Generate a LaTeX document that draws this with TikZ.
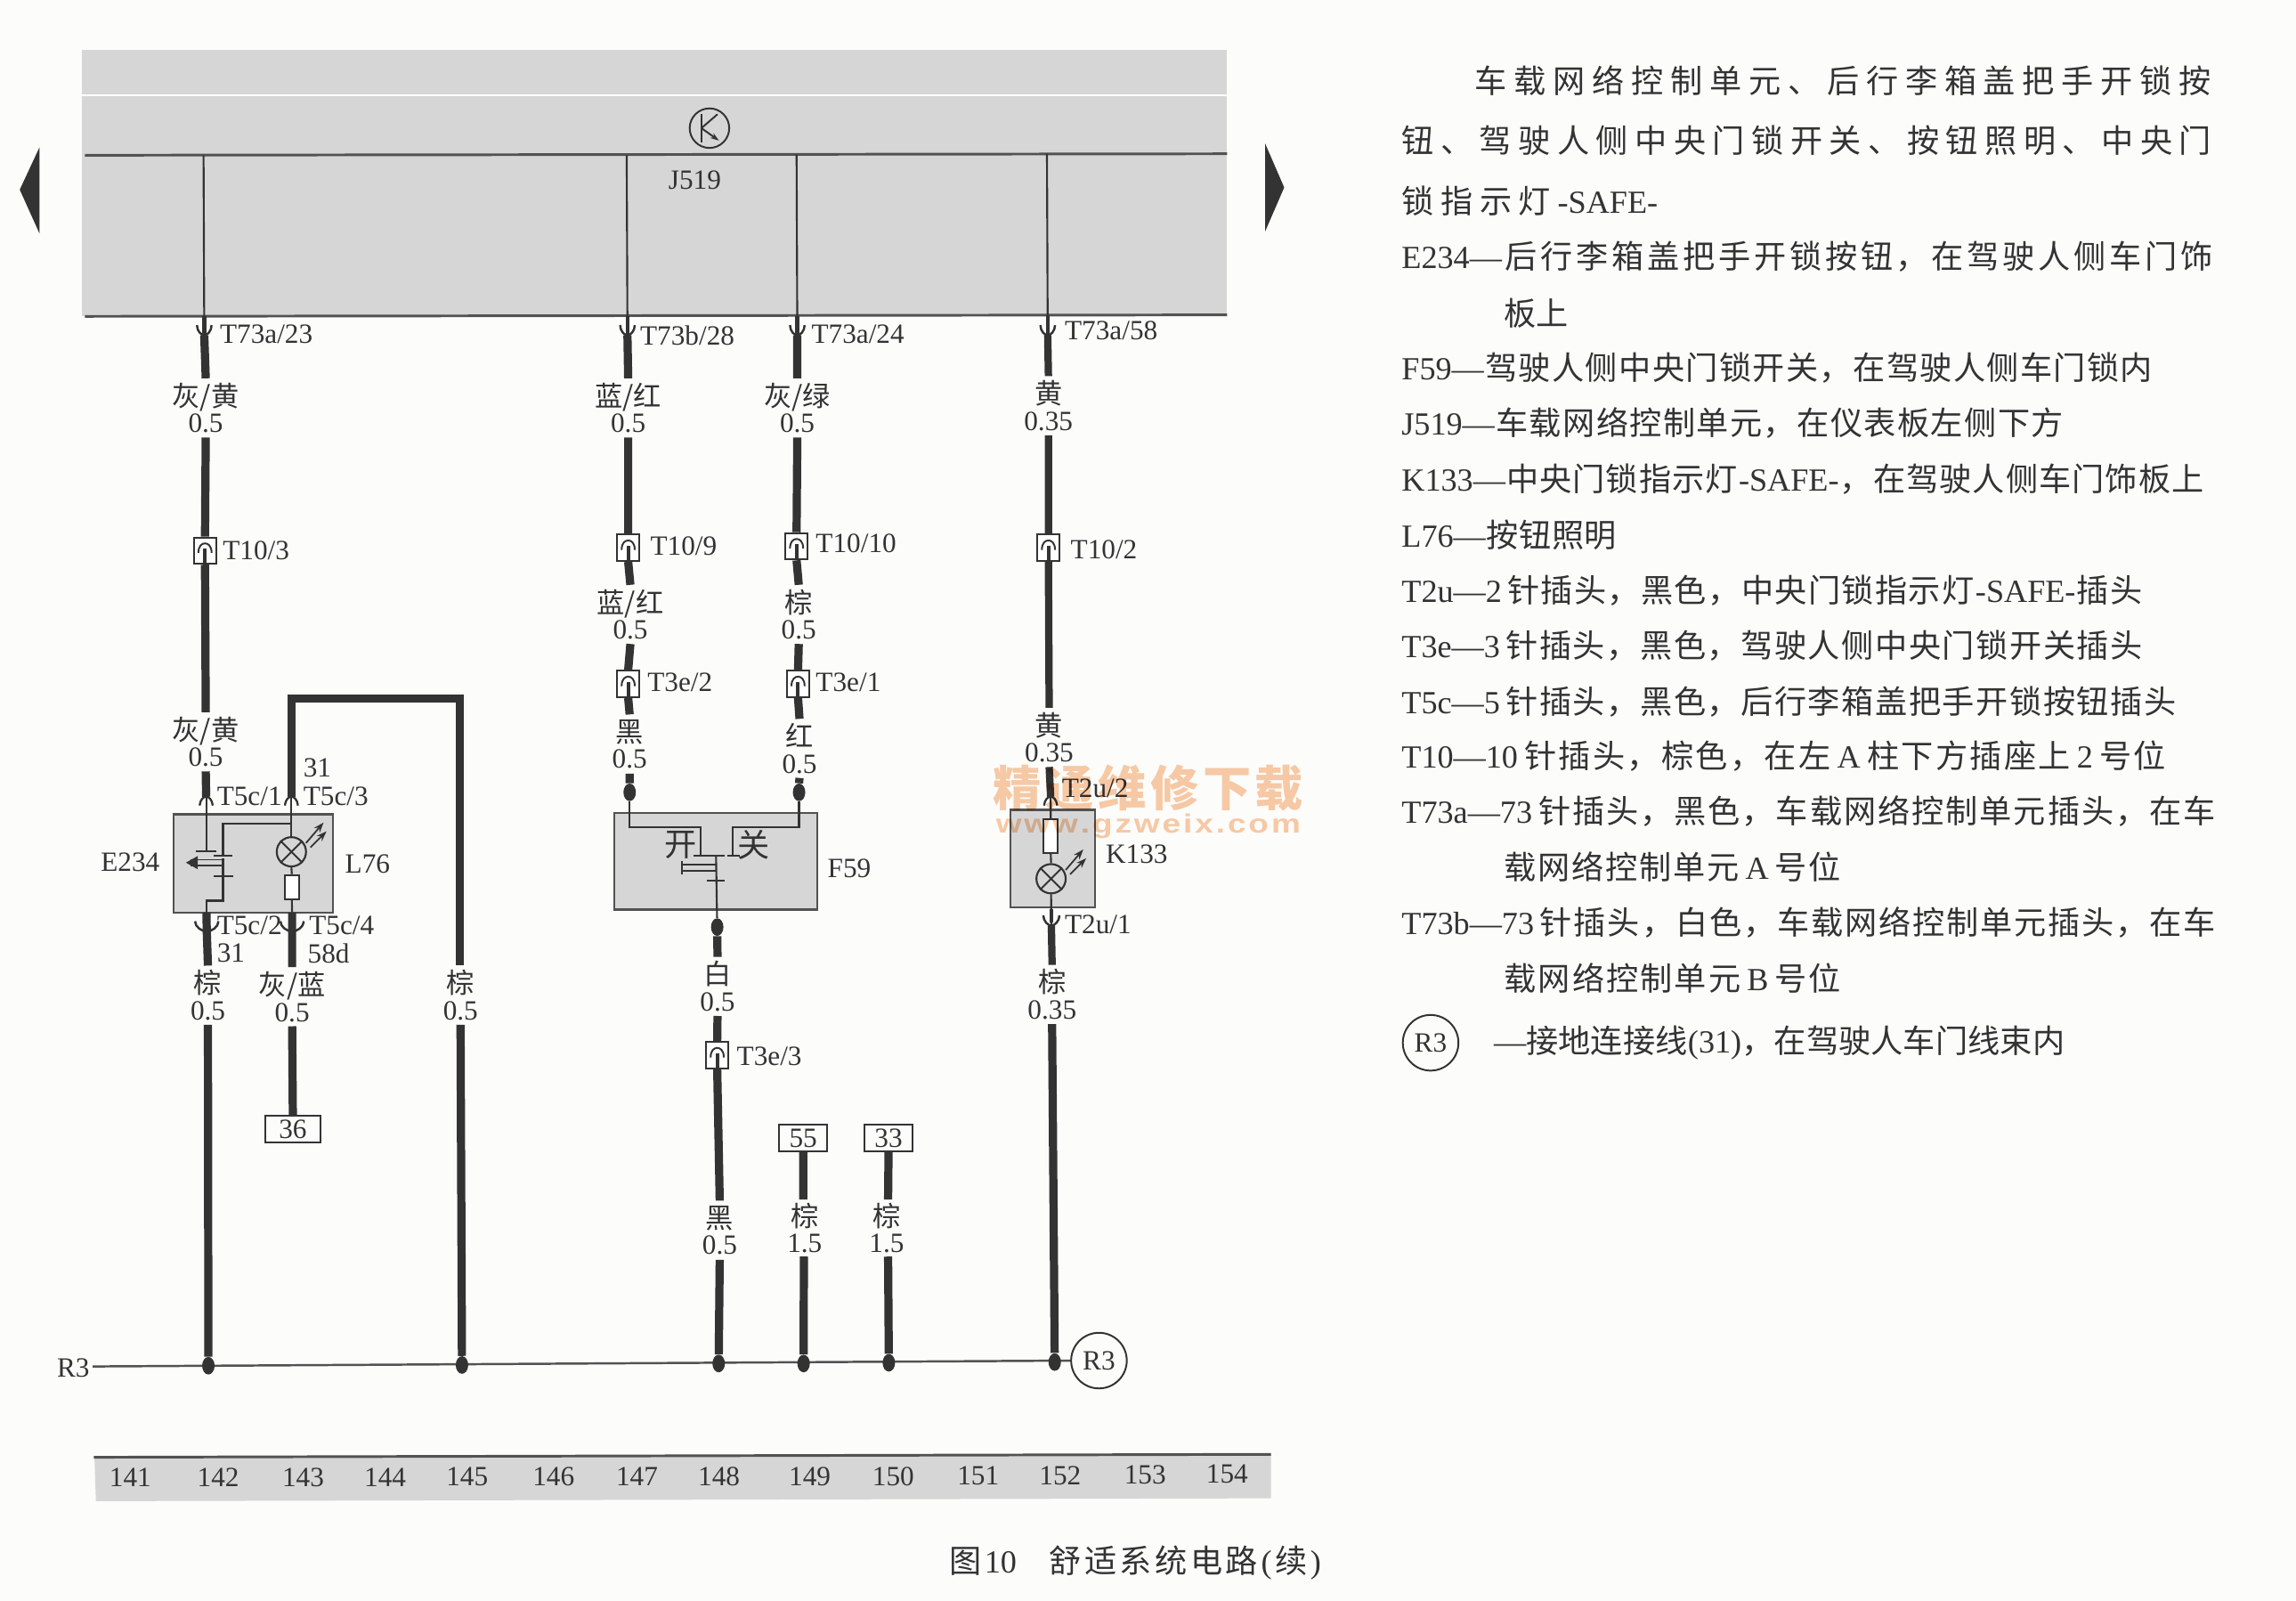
\documentclass[tikz,border=0pt]{standalone}
\usepackage{fontspec}
\setmainfont{Liberation Serif}
\newfontfamily\cjk{Noto Sans CJK SC}
\newfontfamily\wmsans{Liberation Sans}
\usetikzlibrary{arrows.meta,shapes.geometric}
\definecolor{paper}{HTML}{FCFCFA}
\definecolor{panel}{HTML}{D6D6D6}
\definecolor{ink}{HTML}{333333}
\definecolor{wm}{HTML}{F9CBA8}
\makeatletter
\newcommand\latinw[1]{{\rmfamily #1}}
\def\fw{\char"FF0C }
\def\fitdo#1{#1\fitnext}
\def\fitnext#1{\ifx\relax#1\relax\else\hfil #1\expandafter\fitnext\fi}
\newcommand\bodyline[5]{\node[anchor=west,inner sep=0pt,text=ink] (#1) at (#2,#3) {\hbox to #4pt{\fontsize{22}{24}\selectfont\cjk\fitdo#5\relax}};}
\makeatother
\tikzset{
  x=1pt,y=-1pt,
  wirethick/.style={draw=ink,line width=5.6pt},
  wirethin/.style={draw=ink,line width=1.3pt},
  busline/.style={draw=ink!85,line width=1.8pt},
  pinline/.style={draw=ink,line width=1.2pt},
  wl/.style={inner sep=0pt,minimum height=40pt,minimum width=30pt,align=center,text=ink,font=\fontsize{19}{18}\selectfont},
  tl/.style={inner sep=0pt,anchor=west,text=ink,font=\fontsize{19}{21}\selectfont},
  pbox/.style={draw=ink,line width=1.2pt,fill=white,minimum width=15pt,minimum height=18pt,inner sep=0pt},
  numbox/.style={draw=ink,line width=1.2pt,minimum height=18pt,inner sep=0pt,text=ink,font=\fontsize{19}{19}\selectfont},
  graybox/.style={draw=ink!85,line width=1.4pt,fill=panel},
  lampnode/.style={draw=ink,circle,line width=1.3pt,minimum size=20pt,inner sep=0pt,fill=panel},
  dropdot/.style={ellipse,fill=ink,minimum width=8.5pt,minimum height=12pt,inner sep=0pt},
  rcircle/.style={circle,draw=ink,line width=1.2pt,minimum size=38pt,inner sep=0pt,text=ink,font=\fontsize{19}{19}\selectfont},
  ray/.style={draw=ink,line width=1.1pt,-{Stealth[length=7pt,width=5pt]}}
}
\newcommand\wlab[5]{\node[wl] (#1) at (#2,#3) {\cjk #4\\\rmfamily #5};}
\newcommand\pinbox[3]{%
  \node[pbox] (#1) at (#2,#3) {};
  \draw[pinline] (#2-4.5,#3+1.5) .. controls (#2-4.5,#3-3.5) and (#2-2,#3-5) .. (#2,#3-5) .. controls (#2+2,#3-5) and (#2+4.5,#3-3.5) .. (#2+4.5,#3+1.5);
  \draw[draw=ink,line width=2.4pt] (#2,#3-1.5) -- (#2,#3+9);
}
\newcommand\forkdn[4]{% name x y(bottom) halfwidth
  \coordinate (#1) at (#2,#3);
  \draw[pinline,line width=1.5pt] (#2-#4,#3-7) .. controls (#2-#4,#3-3) and (#2-#4*0.4,#3) .. (#2,#3) .. controls (#2+#4*0.4,#3) and (#2+#4,#3-3) .. (#2+#4,#3-7);
}
\newcommand\forkup[3]{% name x y(top)
  \coordinate (#1) at (#2,#3);
  \draw[pinline,line width=1.4pt] (#2-4.5,#3+6) .. controls (#2-4,#3+2) and (#2-2,#3) .. (#2,#3) .. controls (#2+2,#3) and (#2+4,#3+2) .. (#2+4.5,#3+6);
}
\newcommand\lamp[3]{%
  \node[lampnode] (#1) at (#2,#3) {};
  \draw[pinline] (#1.north west) -- (#1.south east) (#1.north east) -- (#1.south west);
  \draw[ray] (#2+10,#3-6) -- (#2+22,#3-20);
  \draw[ray] (#2+13,#3-3) -- (#2+24,#3-14);
}
\begin{document}
\begin{tikzpicture}
\useasboundingbox (0,0) rectangle (1568,1093.1);
\fill[paper] (0,0) rectangle (1568,1093.1);

% ---- control unit panel
\fill[panel] (56,34) rectangle (838,216);
\draw[white,line width=1.6pt] (56,65) -- (838,65);
\coordinate (busL) at (58,106);
\coordinate (busR) at (838,105);
\coordinate (baseL) at (58,216);
\coordinate (baseR) at (838,215);
\draw[busline] (busL) -- (busR);
\draw[busline] (baseL) -- (baseR);
\fill[ink] (13.5,129.5) -- (27,100.5) -- (27,159.5) -- cycle;
\fill[ink] (877,128) -- (864,98) -- (864,158) -- cycle;

\node[circle,draw=ink,line width=1.2pt,minimum size=27pt,inner sep=0pt] (kc) at (484.5,87.5) {};
\coordinate (kb) at (479,87.5);
\draw[pinline] (479,78) -- (479,97);
\draw[pinline] (kb) -- (490,78);
\draw[pinline,-{Stealth[length=6pt,width=4pt]}] (kb) -- (491,96);
\node[tl,anchor=center] (j519) at (474.5,123) {J519};

% ---- bus taps
\coordinate (t1) at (139,106);\coordinate (t2) at (428,106);\coordinate (t3) at (544,105.5);\coordinate (t4) at (715,105);
\forkdn{f1}{139.5}{229}{5}
\forkdn{f2}{428.5}{229}{5}
\forkdn{f3}{544.5}{229}{5}
\forkdn{f4}{715.5}{229}{5}
\draw[wirethin] (t1) -- (f1) (t2) -- (f2) (t3) -- (f3) (t4) -- (f4);
\draw[draw=ink,line width=2.6pt] (139.5,216) -- (139.5,228) (428.5,216) -- (428.5,228) (544.5,216) -- (544.5,228) (715.5,216) -- (715.5,228);
\node[tl] (p1) at (150,228) {T73a/23};
\node[tl] (p2) at (437,229) {T73b/28};
\node[tl] (p3) at (554,228) {T73a/24};
\node[tl] (p4) at (727,226) {T73a/58};

% ---- component boxes
\node[graybox,minimum width=108.7pt,minimum height=67pt,inner sep=0pt] (e234) at (173,589.5) {};
\node[graybox,minimum width=138.4pt,minimum height=66pt,inner sep=0pt] (f59) at (488.8,588) {};
\node[graybox,minimum width=58pt,minimum height=66.6pt,inner sep=0pt] (k133) at (719,586.3) {};
\node[tl,anchor=center] (e234t) at (89,589) {E234};
\node[tl,anchor=center] (l76t) at (251,590) {L76};
\node[tl,anchor=center] (f59t) at (580,593) {F59};
\node[tl] (k133t) at (755,583) {K133};

% ---- column 1
\wlab{a1}{140.5}{278.5}{灰/黄}{0.5}
\pinbox{a2}{140}{376}
\wlab{a3}{140.5}{506.5}{灰/黄}{0.5}
\forkup{a4}{140.8}{544}
\node[tl] (a4t) at (148,544) {T5c/1};
\node[tl] (a2t) at (152,376) {T10/3};
\draw[wirethick] (f1) -- (a1.north) (a1.south) -- (a2.north) (a2.south) -- (a3.north) (a3.south) -- (a4);
\forkdn{a5}{141.2}{636}{8}
\node[tl] (a5t) at (148,632) {T5c/2};
\node[tl] (a5u) at (148,651) {31};
\wlab{a6}{142}{679.5}{棕}{0.5}
\draw[wirethick] (141,623) -- (a5) -- (a6.north);

% ---- column 2 (lamp feed and earth jumper)
\forkup{b1}{199}{544}
\node[tl] (b1t) at (207,544) {T5c/3};
\node[tl] (b1u) at (207,524) {31};
\coordinate (uL) at (199,477);
\coordinate (uR) at (314,477);
\wlab{b2}{314.5}{679.5}{棕}{0.5}
\draw[wirethick,line join=miter] (b1) -- (uL) -- (uR) -- (uR |- b2.north);
\forkdn{b3}{199.5}{636}{8}
\node[tl] (b3t) at (211,632) {T5c/4};
\node[tl] (b3u) at (210,651) {58d};
\wlab{b4}{199.5}{680.5}{灰/蓝}{0.5}
\node[numbox,minimum width=38pt] (b5) at (200,771) {36};
\draw[wirethick] (199.5,623) -- (b3) -- (b4.north) (b4.south) -- (b5.north);

% ---- inside E234 / L76
\draw[wirethin] (a4) -- (140.8,581);
\draw[pinline] (133.5,581) -- (147.5,581);
\draw[wirethin] (b1) -- (199,571);
\coordinate (lj) at (199,562.5);
\draw[wirethin] (lj) -- (152.3,562.5) -- (152.3,584);
\draw[pinline] (146,584) -- (158.5,584);
\draw[wirethin] (152.3,586) -- (152.3,615) -- (140.8,615) -- (140.8,623);
\draw[pinline] (146,598) -- (159,598);
\draw[pinline] (130,587) -- (152.3,587) (130,591) -- (152.3,591);
\fill[ink] (127,589) -- (135,584.5) -- (135,593.5) -- cycle;
\lamp{l1}{199}{581.6}
\node[draw=ink,line width=1.2pt,fill=white,minimum width=9.5pt,minimum height=16.5pt,inner sep=0pt] (r1) at (199.3,605.7) {};
\draw[wirethin] (l1.south) -- (r1.north) (r1.south) -- (199.5,623);

% ---- column 3
\wlab{c1}{429}{278.5}{蓝/红}{0.5}
\pinbox{c2}{429}{374}
\node[tl] (c2t) at (444,373) {T10/9};
\wlab{c3}{430.5}{419.5}{蓝/红}{0.5}
\pinbox{c4}{429}{467}
\node[tl] (c4t) at (442,466) {T3e/2};
\wlab{c5}{430}{508}{黑}{0.5}
\node[dropdot] (c6) at (430,541) {};
\draw[wirethick] (f2) -- (c1.north) (c1.south) -- (c2.north) (c2.south) -- (c3.north) (c3.south) -- (c4.north) (c4.south) -- (c5.north) (c5.south) -- (c6.north);

% ---- column 4
\wlab{d1}{544.5}{278.5}{灰/绿}{0.5}
\pinbox{d2}{544}{373}
\node[tl] (d2t) at (557,371) {T10/10};
\wlab{d3}{545.5}{419.5}{棕}{0.5}
\pinbox{d4}{545}{467}
\node[tl] (d4t) at (557,466) {T3e/1};
\wlab{d5}{546}{511}{红}{0.5}
\node[dropdot] (d6) at (545.7,541) {};
\draw[wirethick] (f3) -- (d1.north) (d1.south) -- (d2.north) (d2.south) -- (d3.north) (d3.south) -- (d4.north) (d4.south) -- (d5.north) (d5.south) -- (d6.north);

% ---- inside F59
\draw[wirethin] (c6) -- (430,565) -- (478.7,565) -- (478.7,584);
\draw[wirethin] (d6) -- (545.7,565) -- (500.5,565) -- (500.5,584);
\draw[pinline] (473.5,584.5) -- (482.5,584.5) (496.5,584.5) -- (505.5,584.5) (483,584.5) -- (495,584.5) (483,601) -- (495,601);
\node[inner sep=0pt,text=ink,font=\fontsize{22}{22}\selectfont\cjk] (kai) at (465,577) {开};
\node[inner sep=0pt,text=ink,font=\fontsize{22}{22}\selectfont\cjk] (guan) at (514.6,577) {关};
\draw[pinline] (466,590.4) -- (489,590.4) (466,594.8) -- (489,594.8) (466,588) -- (466,597.2);
\node[dropdot] (g1) at (489.8,633) {};
\draw[wirethin] (489,584.5) -- (g1);

% ---- column 5 (F59 output)
\wlab{g2}{490}{673.5}{白}{0.5}
\pinbox{g3}{489.8}{720.5}
\node[tl] (g3t) at (503,721) {T3e/3};
\wlab{g4}{491.5}{840}{黑}{0.5}
\draw[wirethick] (g1) -- (g2.north) (g2.south) -- (g3.north) (g3.south) -- (g4.north);

% ---- 55 and 33
\node[numbox,minimum width=33pt] (h1) at (548.5,777) {55};
\node[numbox,minimum width=33pt] (i1) at (606.8,777) {33};
\wlab{h2}{549.5}{838.5}{棕}{1.5}
\wlab{i2}{605.5}{838.5}{棕}{1.5}
\draw[wirethick] (h1.south) -- (548.5,819) (i1.south) -- (606.5,819);

% ---- column K133
\wlab{m1}{716}{277}{黄}{0.35}
\pinbox{m2}{716}{374}
\node[tl] (m2t) at (731,375) {T10/2};
\wlab{m3}{716.5}{503.5}{黄}{0.35}
\forkup{m4}{717.5}{544}
\node[tl] (m4t) at (725,538) {T2u/2};
\draw[wirethick,line width=5pt] (f4) -- (m1.north) (m1.south) -- (m2.north) (m2.south) -- (m3.north) (m3.south) -- (m4);
\node[draw=ink,line width=1.2pt,fill=white,minimum width=9.8pt,minimum height=23pt,inner sep=0pt] (m5) at (717.6,571) {};
\lamp{m6}{717.8}{600}
\draw[wirethin] (m4) -- (m5.north) (m5.south) -- (m6.north);
\forkdn{m7}{718}{632}{5.5}
\draw[wirethin] (m6.south) -- (m7);
\draw[draw=ink,line width=2.6pt] (718,621) -- (718,630);
\node[tl] (m7t) at (727,631) {T2u/1};
\wlab{m8}{718.5}{679}{棕}{0.35}
\draw[wirethick,line width=5pt] (m7) -- (m8.north);

% ---- earth bus
\node[inner sep=0pt,text=ink,font=\fontsize{19}{19}\selectfont] (r3l) at (50,934) {R3};
\node[rcircle] (r3c) at (750.5,929) {R3};
\draw[draw=ink!85,line width=1.5pt] (r3l.east) ++(2,-1) -- (r3c.west);
\node[dropdot] (q1) at (142.3,932.5) {};
\node[dropdot] (q2) at (315.5,932) {};
\node[dropdot] (q3) at (490.8,931) {};
\node[dropdot] (q4) at (548.8,931) {};
\node[dropdot] (q5) at (607,930.5) {};
\node[dropdot] (q6) at (720.3,930) {};
\draw[wirethick] (a6.south) -- (q1);
\draw[wirethick] (b2.south) -- (q2);
\draw[wirethick] (g4.south) -- (q3);
\draw[wirethick] (549,858) -- (q4);
\draw[wirethick] (606.5,858) -- (q5);
\draw[wirethick] (m8.south) -- (q6);

% ---- column ruler
\fill[panel] (64.5,995) -- (868,993) -- (868,1023) -- (65.5,1025) -- cycle;
\coordinate (rulerL) at (64,995);
\coordinate (rulerR) at (868,993);
\draw[busline] (rulerL) -- (rulerR);
\foreach \nm/\xx/\yy in {141/89/1009,142/149/1009,143/207/1009,144/263/1008.5,145/319/1008.5,146/378/1008.5,147/435/1008,148/491/1008,149/553/1008,150/610/1008,151/668/1007.5,152/724/1007.5,153/782/1007,154/838/1006.5}
  \node[inner sep=0pt,text=ink,font=\fontsize{19}{19}\selectfont] (n\nm) at (\xx,\yy) {\nm};

\bodyline{cap}{648}{1067}{254}{图{\latinw{10}\hspace{20pt}}舒适系统电路{\latinw{(}}续{\latinw{)}}}

% ---- legend text
\bodyline{t01}{1007}{55}{503}{车载网络控制单元、后行李箱盖把手开锁按}
\bodyline{t02}{957}{96}{553}{钮、驾驶人侧中央门锁开关、按钮照明、中央门}
\bodyline{t03}{957}{137}{175}{锁指示灯{\latinw{-SAFE-}}}
\bodyline{t04}{957}{175}{554}{{\latinw{E234—}}后行李箱盖把手开锁按钮\fw 在驾驶人侧车门饰}
\bodyline{t05}{1027}{214}{43}{板上}
\bodyline{t06}{957}{251}{513}{{\latinw{F59—}}驾驶人侧中央门锁开关\fw 在驾驶人侧车门锁内}
\bodyline{t07}{957}{289}{452}{{\latinw{J519—}}车载网络控制单元\fw 在仪表板左侧下方}
\bodyline{t08}{957}{327}{548}{{\latinw{K133—}}中央门锁指示灯{\latinw{-SAFE-}}\fw 在驾驶人侧车门饰板上}
\bodyline{t09}{957}{365}{147}{{\latinw{L76—}}按钮照明}
\bodyline{t10}{957}{403}{506}{{\latinw{T2u—2\hspace{3pt}}}针插头\fw 黑色\fw 中央门锁指示灯{\latinw{-SAFE-}}插头}
\bodyline{t11}{957}{441}{506}{{\latinw{T3e—3\hspace{3pt}}}针插头\fw 黑色\fw 驾驶人侧中央门锁开关插头}
\bodyline{t12}{957}{479}{529}{{\latinw{T5c—5\hspace{3pt}}}针插头\fw 黑色\fw 后行李箱盖把手开锁按钮插头}
\bodyline{t13}{957}{516}{522}{{\latinw{T10—10\hspace{3pt}}}针插头\fw 棕色\fw 在左{\latinw{\hspace{3pt}A\hspace{3pt}}}柱下方插座上{\latinw{\hspace{3pt}2\hspace{3pt}}}号位}
\bodyline{t14}{957}{554}{556}{{\latinw{T73a—73\hspace{3pt}}}针插头\fw 黑色\fw 车载网络控制单元插头\fw 在车}
\bodyline{t15}{1027}{592}{230}{载网络控制单元{\latinw{\hspace{3pt}A\hspace{3pt}}}号位}
\bodyline{t16}{957}{630}{556}{{\latinw{T73b—73\hspace{3pt}}}针插头\fw 白色\fw 车载网络控制单元插头\fw 在车}
\bodyline{t17}{1027}{668}{230}{载网络控制单元{\latinw{\hspace{3pt}B\hspace{3pt}}}号位}
\node[rcircle] (t18c) at (977,712) {R3};
\bodyline{t18}{1020}{712}{390}{{\latinw{—}}接地连接线{\latinw{(31)}}\fw 在驾驶人车门线束内}

% ---- watermark
\begin{scope}[blend mode=multiply]
\node[anchor=west,inner sep=0pt] (wm1) at (678,538) {\hbox to 212pt{\fontsize{33}{33}\selectfont\cjk\bfseries\color{wm}\fitdo 精通维修下载\relax}};
\node[anchor=west,inner sep=0pt] (wm2) at (680,564) {\scalebox{1.25}[1]{\hbox to 166.4pt{\fontsize{18}{18}\selectfont\wmsans\bfseries\color{wm}\fitdo www.gzweix.com\relax}}};
\end{scope}
\end{tikzpicture}
\end{document}
